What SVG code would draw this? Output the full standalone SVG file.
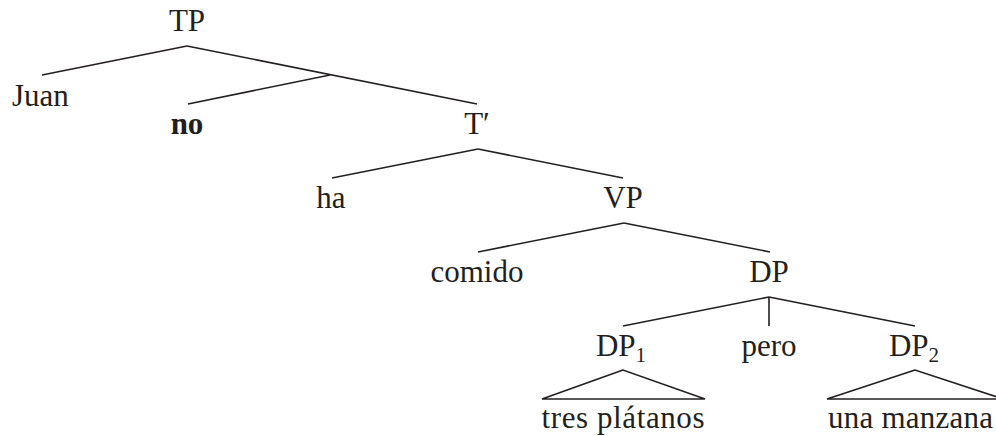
<svg xmlns="http://www.w3.org/2000/svg" width="996" height="436" viewBox="0 0 996 436">
<style>
text{font-family:"Liberation Serif","Times New Roman",serif;font-size:31px;fill:#231f20;text-anchor:middle}
.b{font-weight:bold}
.s{text-anchor:start}
.sub{font-size:21px}
.e{stroke:#231f20;stroke-width:1.6;fill:none}
</style>
<rect width="996" height="436" fill="#fff"/>
<g id="connectors">
<line class="e" x1="187" y1="46" x2="42" y2="75"/>
<line class="e" x1="187" y1="46" x2="477" y2="104"/>
<line class="e" x1="330" y1="75" x2="188" y2="104"/>
<line class="e" x1="478" y1="149" x2="332" y2="178"/>
<line class="e" x1="478" y1="149" x2="623" y2="178"/>
<line class="e" x1="624" y1="223" x2="478" y2="252"/>
<line class="e" x1="624" y1="223" x2="770" y2="252"/>
<line class="e" x1="769" y1="297" x2="623" y2="326"/>
<line class="e" x1="769" y1="297" x2="769" y2="326"/>
<line class="e" x1="769" y1="297" x2="915" y2="326"/>
<polygon class="e" points="623,370 542,399 705,399"/>
<polygon class="e" points="915,370 827,399 1003,399"/>
</g>
<g id="TP"><text x="187" y="31">TP</text></g>
<g id="Juan"><text class="s" x="12" y="106">Juan</text></g>
<g id="no"><text class="b" x="187" y="134">no</text></g>
<g id="Tbar"><text x="477" y="134">T′</text></g>
<g id="ha"><text x="331" y="208">ha</text></g>
<g id="VP"><text x="623" y="208">VP</text></g>
<g id="comido"><text x="477" y="282">comido</text></g>
<g id="DP"><text x="769" y="282">DP</text></g>
<g id="DP1"><text x="621" y="356">DP<tspan class="sub" dy="6">1</tspan></text></g>
<g id="pero"><text x="769" y="356">pero</text></g>
<g id="DP2"><text x="914" y="356">DP<tspan class="sub" dy="6">2</tspan></text></g>
<g id="tres"><text x="623" y="428" textLength="163" lengthAdjust="spacing">tres plátanos</text></g>
<g id="manzana"><text class="s" x="828" y="428" textLength="165" lengthAdjust="spacing">una manzana</text></g>
</svg>
